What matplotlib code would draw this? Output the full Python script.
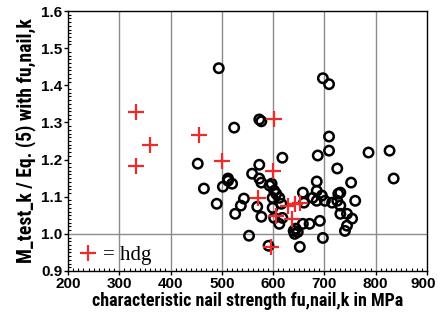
import matplotlib
matplotlib.use("Agg")
import matplotlib.pyplot as plt
from matplotlib.ticker import MultipleLocator
from matplotlib import font_manager
from matplotlib.transforms import ScaledTranslation

# black circles: characteristic nail strength (MPa) and ratio
circ_x = [494, 697, 709, 524, 573, 577, 709, 709, 786, 827, 835, 453, 573, 559,
          512, 573, 618, 687, 725, 685, 752, 465, 490, 502, 512, 520, 577, 593,
          543, 537, 526, 569, 577, 599, 599, 602, 553, 591, 602, 597, 612, 616,
          612, 618, 658, 671, 640, 644, 648, 642, 652, 685, 677, 695, 685, 701,
          715, 725, 727, 731, 760, 731, 744, 754, 691, 697, 740, 744, 658, 660,
          731, 606]
circ_y = [1.446, 1.419, 1.403, 1.286, 1.308, 1.303, 1.262, 1.224, 1.219, 1.224,
          1.149, 1.189, 1.186, 1.162, 1.149, 1.149, 1.205, 1.211, 1.176, 1.141,
          1.138, 1.122, 1.081, 1.127, 1.143, 1.135, 1.138, 1.130, 1.095, 1.076,
          1.054, 1.073, 1.046, 1.097, 1.070, 1.043, 0.995, 0.968, 1.116, 1.135,
          1.097, 1.081, 1.027, 1.043, 1.027, 1.027, 1.008, 1.014, 1.005, 1.000,
          0.965, 1.116, 1.097, 1.103, 1.089, 1.089, 1.084, 1.089, 1.108, 1.111,
          1.089, 1.054, 1.054, 1.041, 1.035, 0.989, 1.008, 1.022, 1.111, 1.084,
          1.076, 1.108]

# red plus: hdg nails
hdg_x = [332, 332, 360, 455, 500, 602, 599, 571, 606, 628, 642, 652, 636, 595]
hdg_y = [1.327, 1.184, 1.238, 1.265, 1.197, 1.308, 1.168, 1.097, 1.049, 1.076,
         1.081, 1.084, 1.041, 0.965]

x_ticks = [200, 300, 400, 500, 600, 700, 800, 900]
y_ticks = [0.9, 1.0, 1.1, 1.2, 1.3, 1.4, 1.5, 1.6]

names = {f.name for f in font_manager.fontManager.ttflist}
SANS = "Liberation Sans"
LABEL = SANS
for cand in ["Liberation Sans Narrow", "Roboto Condensed", "DejaVu Sans Condensed"]:
    if cand in names:
        LABEL = cand
        break

fig = plt.figure(figsize=(4.38, 3.2), dpi=100)
ax = fig.add_axes([68/438, 1 - 271/320, (427-68)/438, (271-11)/320])

for xv in x_ticks[1:-1]:
    ax.axvline(xv, color="#8c8c8c", lw=1.0, zorder=1)
ax.axhline(1.0, color="#8c8c8c", lw=1.0, zorder=1)

ax.scatter(circ_x, circ_y, s=46, facecolors="none", edgecolors="black",
           linewidths=1.8, zorder=3)
ax.plot(hdg_x, hdg_y, ls="none", marker="+", ms=12, mew=1.6, color="#ee2b2b",
        zorder=4, label="= hdg")

ax.set_xlim(200, 900)
ax.set_ylim(0.9, 1.6)
ax.set_xticks(x_ticks)
ax.set_yticks(y_ticks)
ax.set_xticklabels([str(v) for v in x_ticks])
ax.set_yticklabels([f"{v:.1f}" for v in y_ticks])
ax.xaxis.set_minor_locator(MultipleLocator(10))
ax.yaxis.set_minor_locator(MultipleLocator(0.01))
ax.tick_params(which="major", direction="out", length=3, width=1, pad=1)
ax.tick_params(which="minor", direction="in", length=2, width=0.8)
for lab in ax.get_xticklabels() + ax.get_yticklabels():
    lab.set_fontweight("bold")
    lab.set_family(SANS)
    lab.set_fontsize(11)
for sp in ax.spines.values():
    sp.set_linewidth(1.0)

xl = ax.set_xlabel("characteristic nail strength fu,nail,k in MPa", fontsize=12,
                   fontweight="bold", family=LABEL, labelpad=1)
yl = ax.set_ylabel("M_test_k / Eq. (5) with fu,nail,k", fontsize=12,
                   fontweight="bold", family=LABEL, labelpad=4)

leg = ax.legend(loc="lower left", frameon=False, handlelength=0.8,
                handletextpad=0.3, borderaxespad=0.0,
                bbox_to_anchor=(0.01, -0.01),
                prop={"family": "Liberation Serif", "size": 15})

fig.canvas.draw()
r = fig.canvas.get_renderer()
# fit label lengths to the reference (x: ~313 px, y: ~245 px)
w = xl.get_window_extent(r).width
xl.set_fontsize(12 * 313 / w)
h = yl.get_window_extent(r).height
yl.set_fontsize(12 * 245 / h)

# keep the last x tick label inside the canvas
last = ax.xaxis.get_major_ticks()[-1].label1
last.set_transform(last.get_transform() + ScaledTranslation(-4/100, 0, fig.dpi_scale_trans))

fig.savefig("out.png", dpi=100)
